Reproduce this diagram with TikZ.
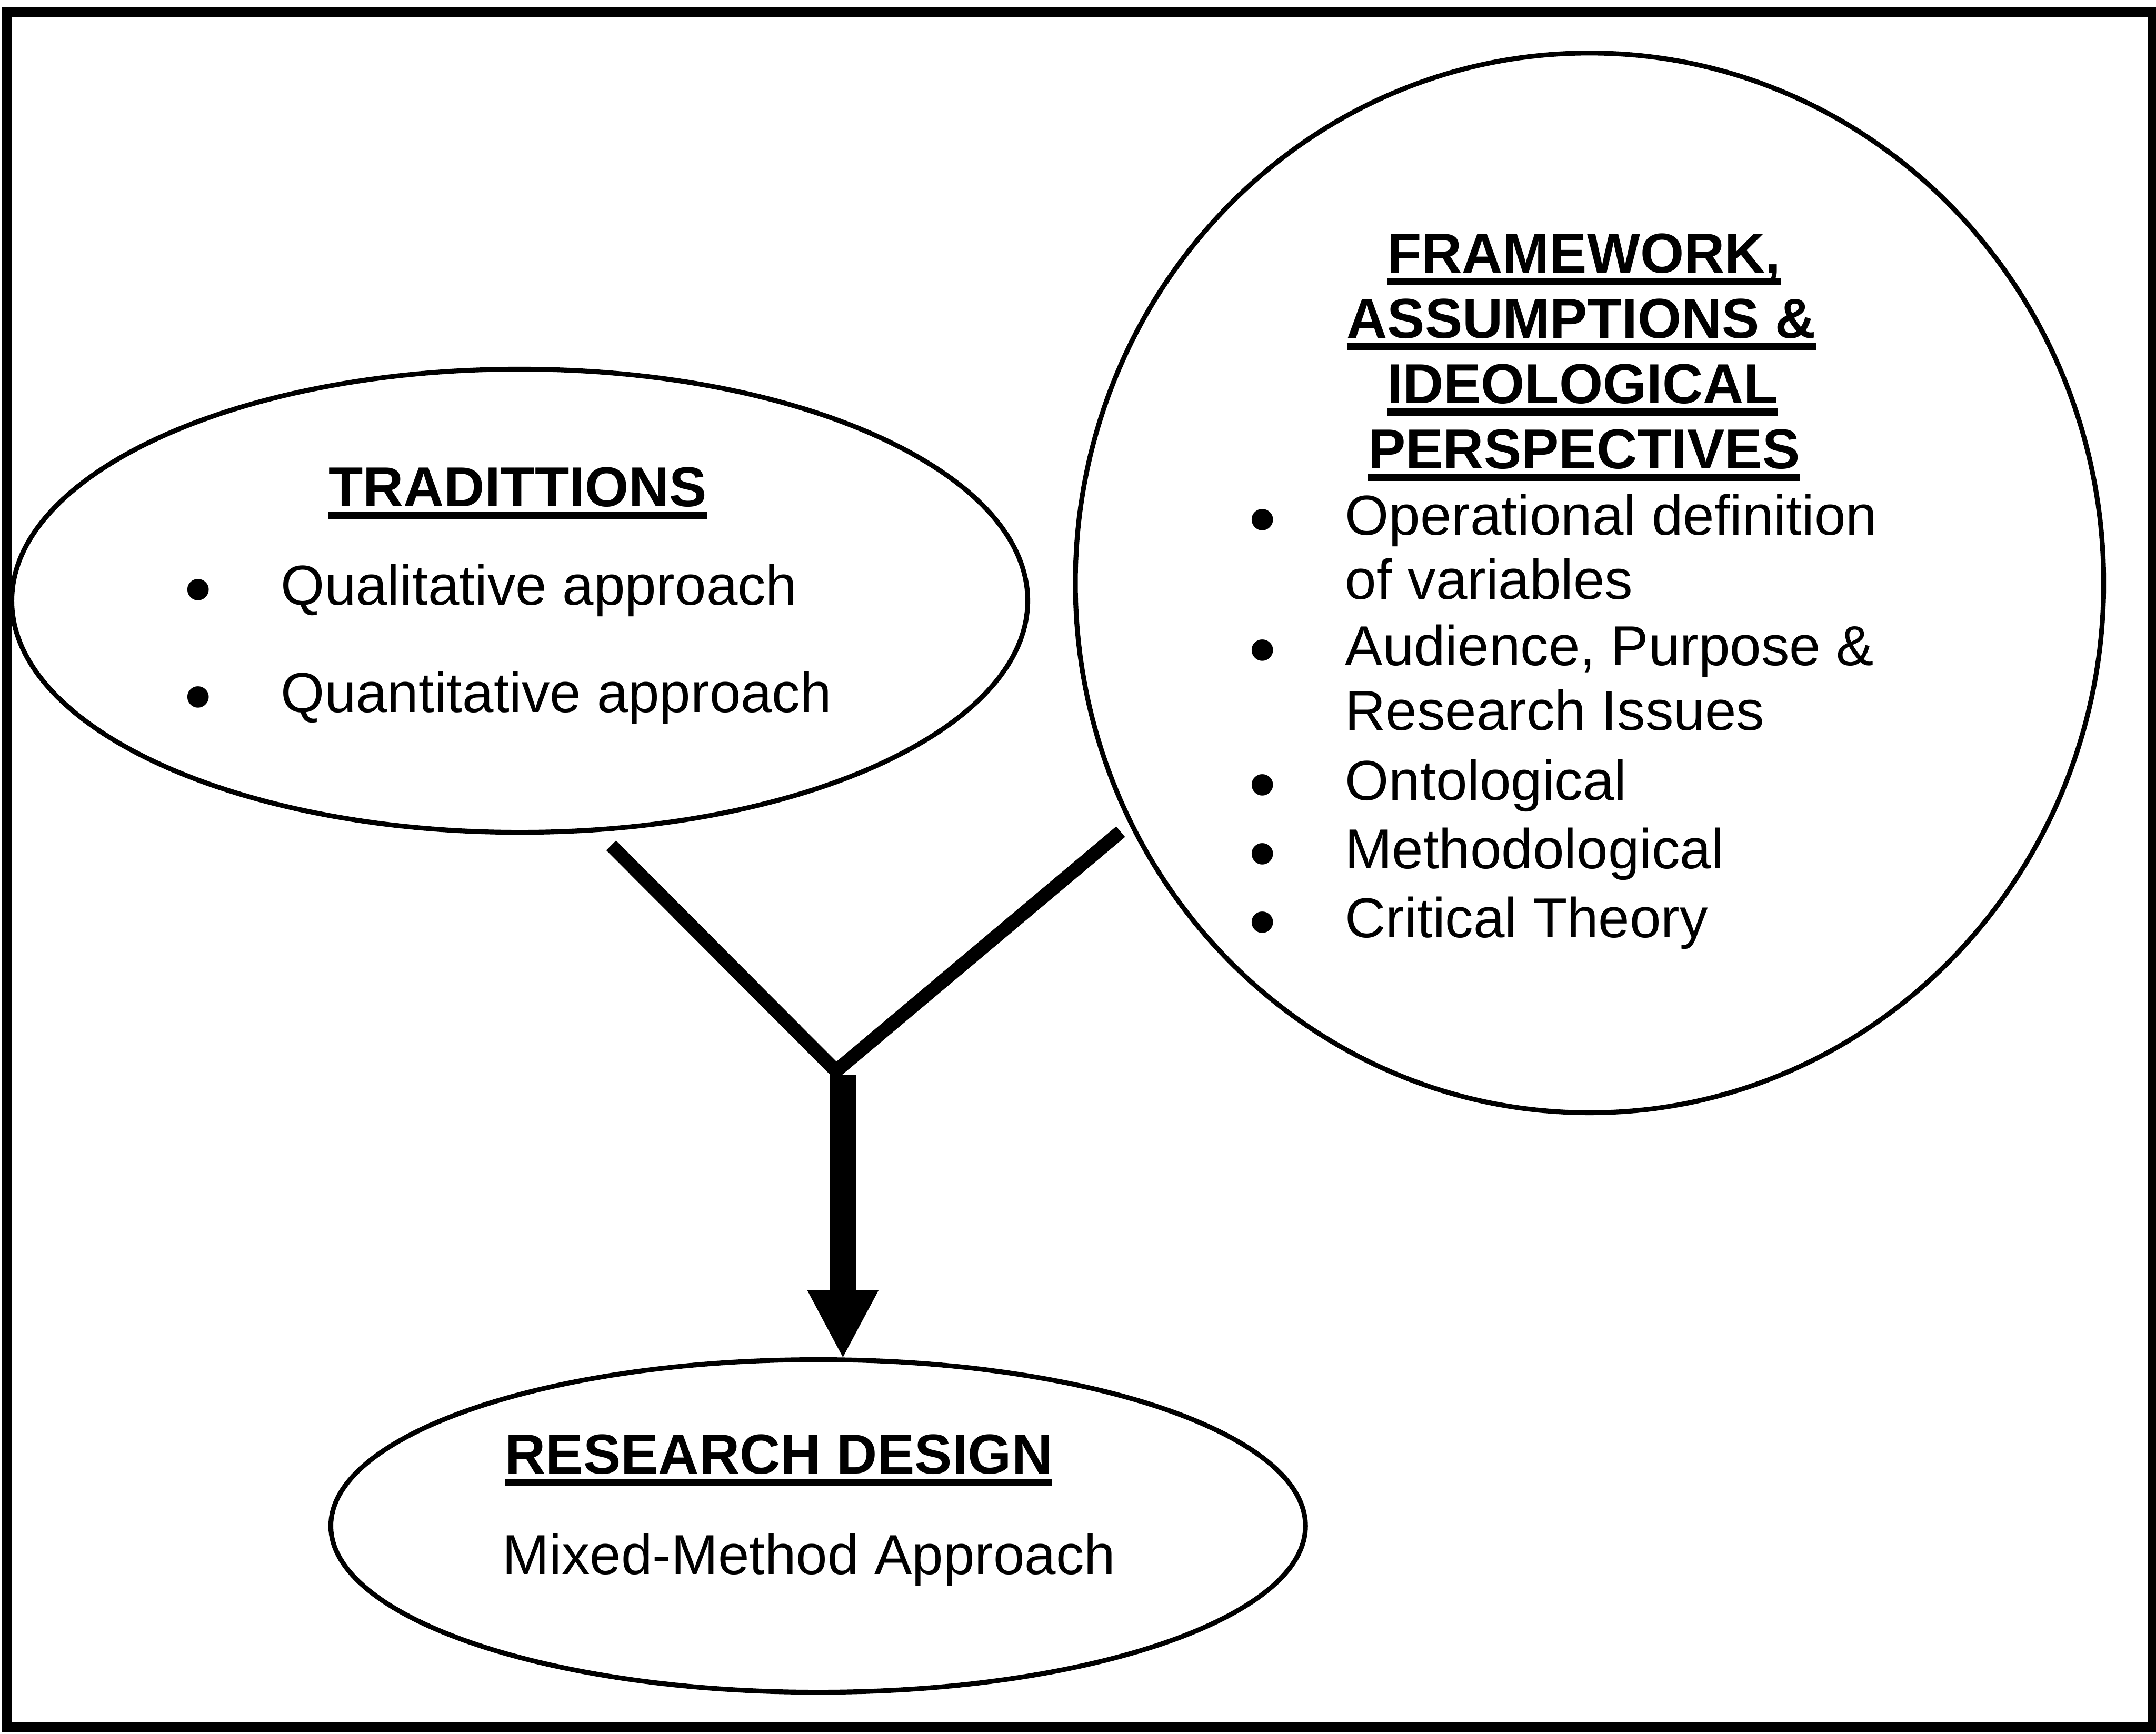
\documentclass[tikz,border=0pt]{standalone}
\usepackage{fontspec}
\setmainfont{Liberation Sans}
\usetikzlibrary{shapes.geometric,arrows.meta}

\newcommand{\ulbold}[1]{\setbox0\hbox{\bfseries #1}\rlap{\rule[-0.22em]{\wd0}{0.13em}}\box0}
\newcommand{\bul}{\llap{\raisebox{-0.2em}[0pt][0pt]{\scalebox{1.4}{\textbullet}}\hspace{1.22em}}}

\begin{document}
\begin{tikzpicture}[x=0.02cm, y=-0.02cm,
    every node/.style={font=\fontsize{23.3}{28}\selectfont, inner sep=0pt},
    bubble/.style={ellipse, draw, line width=2pt},
    title/.style={anchor=base},
    item/.style={anchor=base west},
    vline/.style={line width=0.2cm, line join=round},
    shaft/.style={line width=0.38cm, -{Triangle[length=0.98cm, width=1.04cm, line width=0.4pt]}}]
	\useasboundingbox (0,0) rectangle (1568,1261);
	\draw[line width=0.146cm] (4.7,8.6) rectangle (1565.5,1256.5);

	% the three bubbles
	\node[bubble, minimum width=14.78cm, minimum height=6.74cm] (trad) at (378,437) {};
	\node[bubble, minimum width=14.96cm, minimum height=15.42cm] (frame) at (1156,424) {};
	\node[bubble, minimum width=14.18cm, minimum height=4.84cm] (design) at (595,1110) {};

	\node[title] (tradhead) at (376.5,368.5) {\ulbold{TRADITTIONS}};
	\node[item] (qual) at (204,440) {\bul Qualitative approach};
	\node[item] (quan) at (204,518) {\bul Quantitative approach};

	\node[title] (fw1) at (1152,198.5) {\ulbold{FRAMEWORK,}};
	\node[title] (fw2) at (1150,246) {\ulbold{ASSUMPTIONS \&}};
	\node[title] (fw3) at (1151,293.5) {\ulbold{IDEOLOGICAL}};
	\node[title] (fw4) at (1152,341) {\ulbold{PERSPECTIVES}};
	\node[item] (op1) at (978,389) {\bul Operational definition};
	\node[item] (op2) at (978,436) {of variables};
	\node[item] (aud1) at (978,484) {\bul Audience, Purpose \&};
	\node[item] (aud2) at (978,531) {Research Issues};
	\node[item] (onto) at (978,582) {\bul Ontological};
	\node[item] (meth) at (978,632) {\bul Methodological};
	\node[item] (crit) at (978,682) {\bul Critical Theory};

	\node[item] (dhead) at (367,1072) {\ulbold{RESEARCH DESIGN}};
	\node[item] (mixed) at (365,1145) {Mixed-Method Approach};

	% the Y and the arrow
	\coordinate (tradfoot) at (444.5,615);
	\coordinate (framefoot) at (815,605);
	\coordinate (join) at (608,779);
	\coordinate (stem) at (613,782);
	\draw[vline] (tradfoot) -- (join) -- (framefoot);
	\draw[shaft] (stem) -- (stem |- design.north);
\end{tikzpicture}
\end{document}
